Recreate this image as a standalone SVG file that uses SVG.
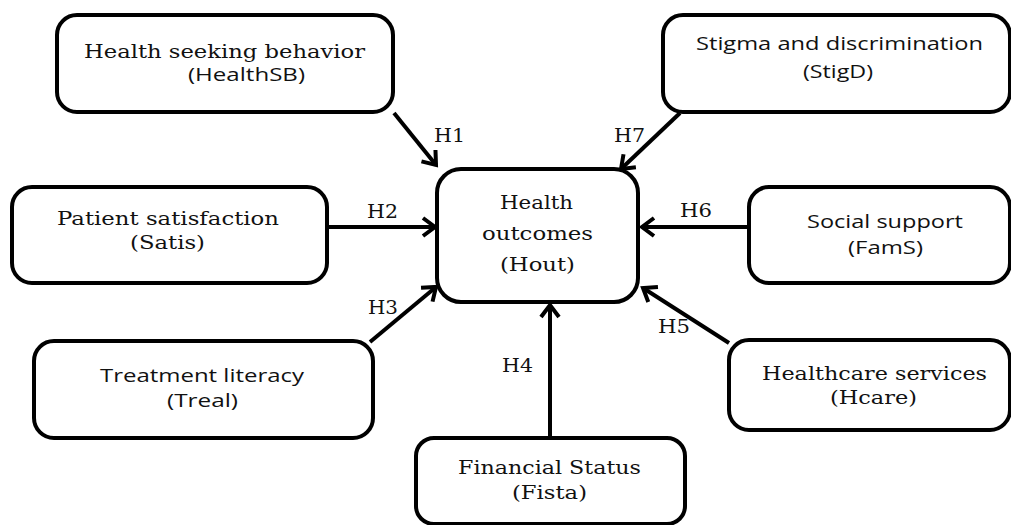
<svg xmlns="http://www.w3.org/2000/svg" width="1011" height="525" viewBox="0 0 1011 525">
<defs>
<style>
.box{fill:#fff;stroke:#000;stroke-width:4}
.sf{font-family:"DejaVu Serif","Liberation Serif",serif;font-size:19px;fill:#111}
.ss{font-family:"Open Sans","Liberation Sans",sans-serif;font-size:19px;fill:#111}
.lbl{font-family:"DejaVu Serif","Liberation Serif",serif;font-size:19px;fill:#111}
.ln{stroke:#000;stroke-width:4;fill:none}
</style>
<marker id="ah" markerUnits="userSpaceOnUse" markerWidth="30" markerHeight="30" viewBox="-15 -15 30 30" refX="0" refY="0" orient="auto">
<path d="M-12,-9 L0,0 L-12,9" fill="none" stroke="#000" stroke-width="4" stroke-linejoin="miter"/>
</marker>
</defs>
<rect width="1011" height="525" fill="#fff"/>
<g id="connectors">
<line class="ln" x1="394" y1="113" x2="436" y2="165" marker-end="url(#ah)"/>
<line class="ln" x1="680" y1="113" x2="621" y2="169" marker-end="url(#ah)"/>
<line class="ln" x1="327" y1="227" x2="435" y2="227" marker-end="url(#ah)"/>
<line class="ln" x1="749" y1="227" x2="642" y2="227" marker-end="url(#ah)"/>
<line class="ln" x1="370" y1="342" x2="436" y2="287" marker-end="url(#ah)"/>
<line class="ln" x1="729" y1="343" x2="643" y2="288" marker-end="url(#ah)"/>
<line class="ln" x1="550" y1="437" x2="550" y2="305" marker-end="url(#ah)"/>
<text class="lbl" x="434" y="142" textLength="31" lengthAdjust="spacingAndGlyphs">H1</text>
<text class="lbl" x="614" y="142" textLength="31" lengthAdjust="spacingAndGlyphs">H7</text>
<text class="lbl" x="367" y="218" textLength="31" lengthAdjust="spacingAndGlyphs">H2</text>
<text class="lbl" x="680" y="217" textLength="32" lengthAdjust="spacingAndGlyphs">H6</text>
<text class="lbl" x="368" y="314" textLength="30" lengthAdjust="spacingAndGlyphs">H3</text>
<text class="lbl" x="658" y="333" textLength="32" lengthAdjust="spacingAndGlyphs">H5</text>
<text class="lbl" x="502" y="372" textLength="31" lengthAdjust="spacingAndGlyphs">H4</text>
</g>
<g id="HealthSB">
<rect class="box" x="57" y="15" width="336" height="97" rx="20"/>
<text class="sf" x="84" y="58" textLength="281" lengthAdjust="spacingAndGlyphs">Health seeking behavior</text>
<text class="ss" x="188" y="81" textLength="117" lengthAdjust="spacingAndGlyphs">(HealthSB)</text>
</g>
<g id="StigD">
<rect class="box" x="663" y="15" width="347" height="97" rx="20"/>
<text class="ss" x="696" y="50" textLength="287" lengthAdjust="spacingAndGlyphs">Stigma and discrimination</text>
<text class="ss" x="803" y="78" textLength="70" lengthAdjust="spacingAndGlyphs">(StigD)</text>
</g>
<g id="Hout">
<rect class="box" x="437" y="169" width="201" height="133" rx="24"/>
<text class="sf" x="500" y="209" textLength="73" lengthAdjust="spacingAndGlyphs">Health</text>
<text class="sf" x="482" y="240" textLength="111" lengthAdjust="spacingAndGlyphs">outcomes</text>
<text class="sf" x="500" y="271" textLength="75" lengthAdjust="spacingAndGlyphs">(Hout)</text>
</g>
<g id="Satis">
<rect class="box" x="12" y="187" width="315" height="96" rx="20"/>
<text class="sf" x="57" y="225" textLength="222" lengthAdjust="spacingAndGlyphs">Patient satisfaction</text>
<text class="sf" x="130" y="249" textLength="75" lengthAdjust="spacingAndGlyphs">(Satis)</text>
</g>
<g id="FamS">
<rect class="box" x="749" y="187" width="261" height="96" rx="20"/>
<text class="ss" x="807" y="228" textLength="156" lengthAdjust="spacingAndGlyphs">Social support</text>
<text class="ss" x="848" y="254" textLength="75" lengthAdjust="spacingAndGlyphs">(FamS)</text>
</g>
<g id="Treal">
<rect class="box" x="34" y="341" width="339" height="97" rx="20"/>
<text class="ss" x="100" y="382" textLength="204" lengthAdjust="spacingAndGlyphs">Treatment literacy</text>
<text class="ss" x="167" y="407" textLength="71" lengthAdjust="spacingAndGlyphs">(Treal)</text>
</g>
<g id="Hcare">
<rect class="box" x="729" y="340" width="281" height="90" rx="20"/>
<text class="sf" x="762" y="380" textLength="225" lengthAdjust="spacingAndGlyphs">Healthcare services</text>
<text class="sf" x="830" y="404" textLength="87" lengthAdjust="spacingAndGlyphs">(Hcare)</text>
</g>
<g id="Fista">
<rect class="box" x="416" y="438" width="269" height="86" rx="18"/>
<text class="sf" x="458" y="474" textLength="183" lengthAdjust="spacingAndGlyphs">Financial Status</text>
<text class="sf" x="512" y="499" textLength="75" lengthAdjust="spacingAndGlyphs">(Fista)</text>
</g>
</svg>
